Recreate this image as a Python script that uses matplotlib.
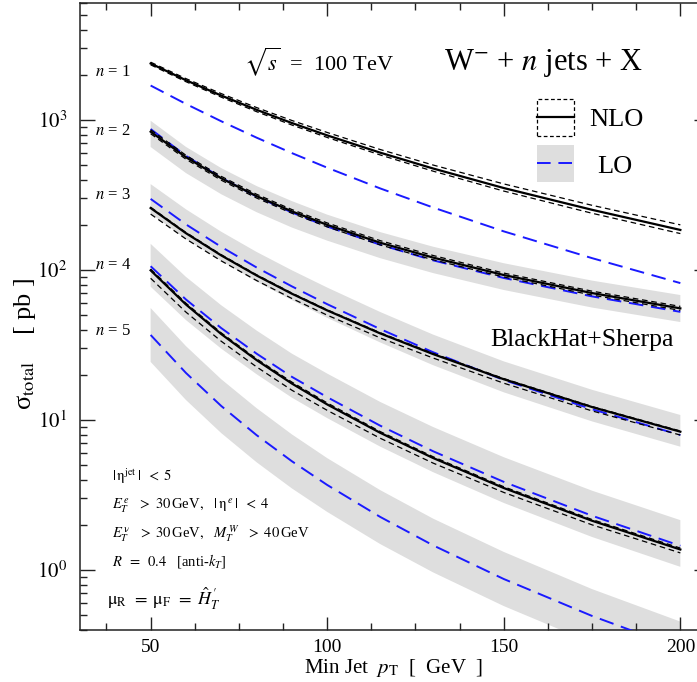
import matplotlib
matplotlib.use('Agg')
import matplotlib.pyplot as plt
from matplotlib.patches import Rectangle
from matplotlib.lines import Line2D
from matplotlib.ticker import FixedLocator, MultipleLocator, LogLocator, NullFormatter

plt.rcParams['font.family'] = ['Liberation Serif', 'DejaVu Serif']
plt.rcParams['mathtext.fontset'] = 'stix'

# ---------------- data ----------------
pt = [50, 60, 70, 80, 90, 100, 115, 130, 150, 175, 200]

# n = 1
n1_nlo    = [2382, 1842, 1456, 1170, 955, 790, 606, 475, 352, 252, 185]
n1_nlo_hi = [2430, 1888, 1500, 1211, 993, 826, 636, 501, 375, 270, 200]
n1_nlo_lo = [2334, 1801, 1420, 1137, 926, 765, 585, 456, 336, 239, 175]
n1_lo     = [1698, 1280, 981, 763, 602, 481, 350, 261, 181, 120, 81.8]

# n = 2
n2_nlo    = [836, 565, 409, 311, 246, 200, 152, 121, 92.6, 70.2, 55.5]
n2_nlo_hi = [861, 582, 421, 320, 253, 206, 157, 125, 95.4, 72.3, 57.2]
n2_nlo_lo = [811, 548, 397, 302, 239, 194, 147, 117, 89.8, 68.1, 53.8]
n2_lo     = [871, 577, 412, 309, 242, 195, 147.5, 116, 88.5, 66.7, 52.6]
n2_lo_hi  = [989, 662, 478, 363, 288, 234, 179, 143, 111, 85.0, 68.1]
n2_lo_lo  = [661, 443, 320, 243, 192, 157, 120, 95.4, 73.6, 56.2, 45.0]

# n = 3
n3_nlo    = [259, 176, 125.1, 92.0, 69.5, 53.8, 37.8, 27.5, 18.7, 12.2, 8.36]
n3_nlo_hi = [262, 178, 126.5, 93.0, 70.2, 54.3, 38.2, 27.8, 18.9, 12.3, 8.45]
n3_nlo_lo = [236, 161, 115, 85.1, 64.6, 50.0, 35.3, 25.9, 17.6, 11.5, 7.94]
n3_lo     = [298, 201.5, 142.6, 104, 77.8, 59.2, 40.4, 28.3, 18.5, 11.8, 7.94]
n3_lo_hi  = [374, 254, 180, 132, 99.6, 76.4, 52.5, 37.1, 24.6, 15.9, 10.8]
n3_lo_lo  = [238, 161, 115, 83.7, 63.0, 48.0, 32.9, 23.2, 15.3, 9.79, 6.64]

# n = 4
n4_nlo    = [99.5, 58.9, 37.4, 25.1, 17.5, 12.7, 8.22, 5.58, 3.52, 2.13, 1.37]
n4_nlo_hi = [101.5, 60.1, 38.1, 25.6, 17.9, 13.0, 8.38, 5.69, 3.59, 2.17, 1.40]
n4_nlo_lo = [88.1, 52.4, 33.5, 22.6, 15.8, 11.6, 7.56, 5.16, 3.29, 2.0, 1.30]
n4_lo     = [106, 63.6, 41.0, 27.7, 19.4, 14.2, 9.17, 6.19, 3.87, 2.30, 1.45]
n4_lo_hi  = [149.5, 90.0, 58.2, 39.5, 27.7, 20.4, 13.2, 8.98, 5.65, 3.38, 2.15]
n4_lo_lo  = [77.4, 46.4, 29.9, 20.2, 14.1, 10.3, 6.65, 4.49, 2.80, 1.66, 1.05]

# n = 5 (LO only)
n5_lo     = [36.9, 20.6, 12.4, 7.93, 5.31, 3.69, 2.26, 1.46, 0.871, 0.494, 0.30]
n5_lo_hi  = [55.8, 31.1, 18.7, 12.0, 8.02, 5.57, 3.41, 2.20, 1.32, 0.746, 0.453]
n5_lo_lo  = [24.4, 13.6, 8.18, 5.23, 3.50, 2.44, 1.49, 0.964, 0.575, 0.326, 0.198]

n_labels = ['$n$ = 1', '$n$ = 2', '$n$ = 3', '$n$ = 4', '$n$ = 5']

x_ticks = [50, 100, 150, 200]
y_ticks = [1, 10, 100, 1000]
y_ticklabels = ['$10^{0}$', '$10^{1}$', '$10^{2}$', '$10^{3}$']

# ---------------- figure ----------------
W, H = 697, 682
fig = plt.figure(figsize=(W / 100, H / 100), dpi=100)


def fx(px):
    return px / W


def fy(py):
    return 1 - py / H


ax = fig.add_axes([fx(80), fy(629.7), (708.6 - 80) / W, 626.4 / H])
ax.set_yscale('log')
ax.set_xlim(30, 208)
ax.set_ylim(0.4, 6000)

BAND = '#dedede'
BLUE = '#1a1aff'

lo_bands = [(n2_lo_lo, n2_lo_hi), (n3_lo_lo, n3_lo_hi), (n4_lo_lo, n4_lo_hi), (n5_lo_lo, n5_lo_hi)]
for lo, hi in lo_bands:
    ax.fill_between(pt, lo, hi, facecolor=BAND, edgecolor='none', lw=0, zorder=1)

for lo_c in [n1_lo, n2_lo, n3_lo, n4_lo, n5_lo]:
    ax.plot(pt, lo_c, color=BLUE, lw=1.4, dashes=(7.5, 4), zorder=3)

for hi, lo in [(n1_nlo_hi, n1_nlo_lo), (n2_nlo_hi, n2_nlo_lo),
               (n3_nlo_hi, n3_nlo_lo), (n4_nlo_hi, n4_nlo_lo)]:
    ax.plot(pt, hi, color='k', lw=0.9, dashes=(4.5, 3), zorder=4)
    ax.plot(pt, lo, color='k', lw=0.9, dashes=(4.5, 3), zorder=4)

for c in [n1_nlo, n2_nlo, n3_nlo, n4_nlo]:
    ax.plot(pt, c, color='k', lw=1.6, zorder=5)

# ticks
ax.xaxis.set_major_locator(FixedLocator(x_ticks))
ax.xaxis.set_minor_locator(MultipleLocator(12.5))
ax.set_xticklabels([str(v) for v in x_ticks])
ax.yaxis.set_major_locator(FixedLocator(y_ticks))
ax.yaxis.set_minor_locator(LogLocator(base=10, subs=range(2, 10)))
ax.yaxis.set_minor_formatter(NullFormatter())
ax.set_yticklabels(y_ticklabels)
ax.tick_params(which='both', direction='in', top=True, right=True, width=1, colors='#222222',
               labelcolor='k')
ax.xaxis.set_tick_params(which='major', length=9.5, pad=7, labelsize=14)
ax.xaxis.set_tick_params(which='minor', length=5)
ax.yaxis.set_tick_params(which='major', length=11, pad=9, labelsize=15)
ax.yaxis.set_tick_params(which='minor', length=5)
for s in ax.spines.values():
    s.set_linewidth(1.1)
    s.set_color('#222222')

# axis labels
fig.text(fx(394), fy(673), r'Min Jet  $p_{\rm T}$  [  GeV  ]', ha='center', va='baseline', fontsize=15)
fig.text(fx(25), fy(344), r'σ$_{\rm total}$    [ pb ]', ha='center', va='center',
         rotation=90, fontsize=19)

# titles
fig.text(fx(319), fy(70), r'$\sqrt{s}$  =  100 TeV', ha='center', va='baseline', fontsize=16)
fig.text(fx(543), fy(70), r'W$^{\mathrm{-}}$ + $n$ jets + X', ha='center', va='baseline', fontsize=22)
fig.text(fx(490), fy(346), 'BlackHat+Sherpa', ha='left', va='baseline', fontsize=18.5)

# n labels
for lab, by in zip(n_labels, [76, 135, 199, 269, 335]):
    fig.text(fx(95), fy(by), lab, ha='left', va='baseline', fontsize=12)

# cuts
cuts = [
    (112, 480.7, r'$|\,\mathrm{η}^{\rm jet}\,|\;\; < \;5$', 10.5),
    (112, 509, r'$E_T^{\,e}\;\;\; > \;30\,$GeV$,\;\;\; |\,\mathrm{η}^{\,e}\,|\;\; < \;4$', 10.5),
    (112, 537.3, r'$E_T^{\,\mathrm{ν}}\;\;\; > \;30\,$GeV$,\;\;\; M_T^{\,W}\;\;\; > \;40\,$GeV', 10.5),
    (112, 565.7, r'$R\;\; = \;\;0.4$   [anti-$k_T$]', 10.5),
    (107, 605, r'$\mathrm{μ}_{\rm R}\;\, = \;\mathrm{μ}_{\rm F}\;\, = \;\hat{H}_T^{\,\prime}$', 13),
]
for x0, by, txt, fs in cuts:
    fig.text(fx(x0), fy(by), txt, ha='left', va='baseline', fontsize=fs)

# legend
fig.add_artist(Rectangle((fx(537), fy(136)), (574 - 537) / W, (136 - 99) / H, transform=fig.transFigure,
                         facecolor='none', edgecolor='k', lw=0.9, linestyle=(0, (3, 2))))
fig.add_artist(Line2D([fx(537), fx(574)], [fy(117), fy(117)], transform=fig.transFigure, color='k', lw=1.6))
fig.add_artist(Rectangle((fx(537), fy(182)), (574 - 537) / W, (182 - 145) / H, transform=fig.transFigure,
                         facecolor=BAND, edgecolor='none'))
fig.add_artist(Line2D([fx(537), fx(574)], [fy(163), fy(163)], transform=fig.transFigure, color=BLUE, lw=1.4,
                      dashes=(7, 4)))
fig.text(fx(589), fy(126), 'NLO', ha='left', va='baseline', fontsize=19)
fig.text(fx(597), fy(172.7), 'LO', ha='left', va='baseline', fontsize=19)

fig.savefig('out.png', dpi=100)
